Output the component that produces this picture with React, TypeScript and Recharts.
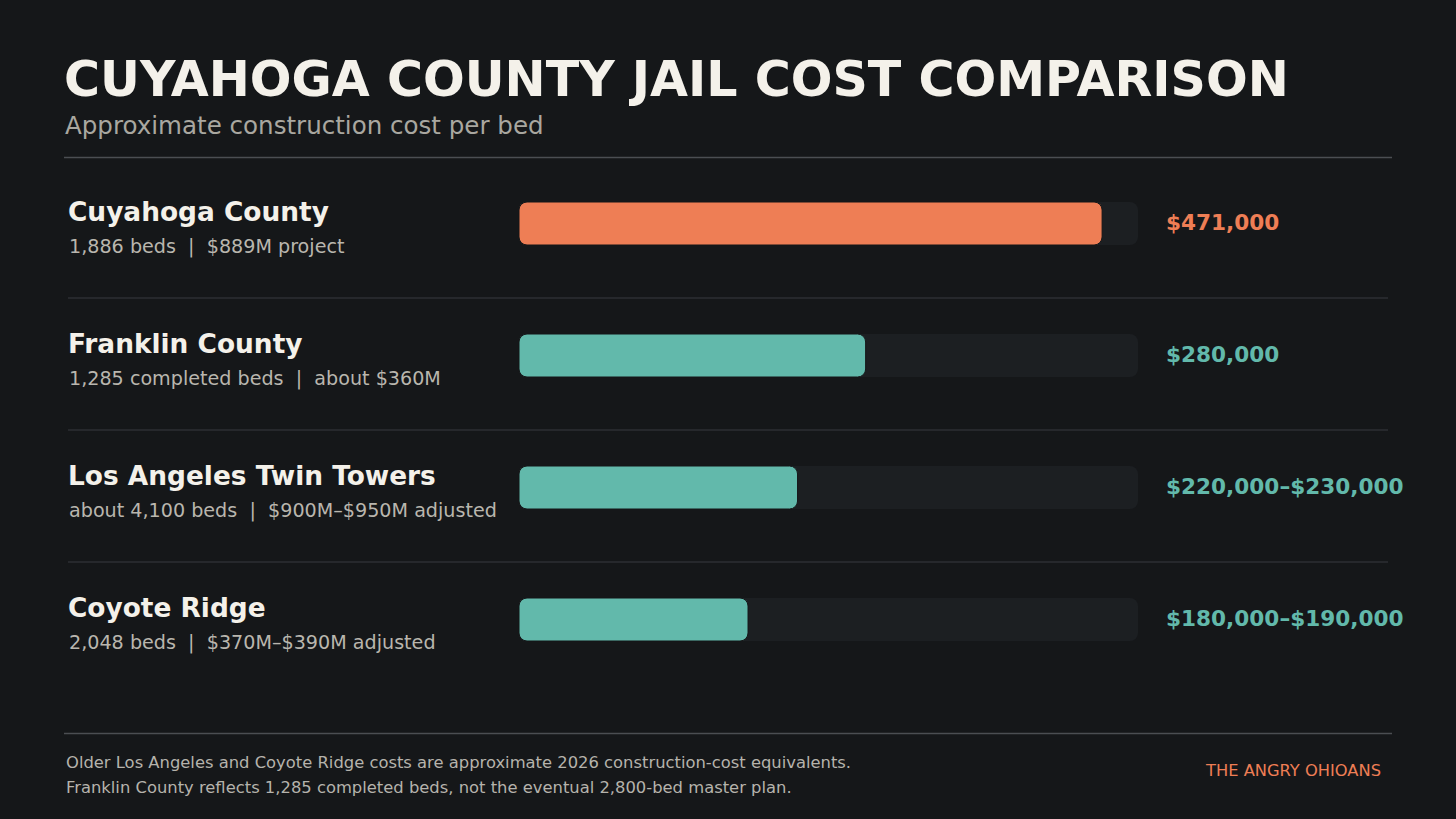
import React from 'react';
import { BarChart, Bar, XAxis, YAxis, Cell, LabelList } from 'recharts';

const facilities = ['Cuyahoga County', 'Franklin County', 'Los Angeles Twin Towers', 'Coyote Ridge'];
const details = [
  '1,886 beds  |  $889M project',
  '1,285 completed beds  |  about $360M',
  'about 4,100 beds  |  $900M\u2013$950M adjusted',
  '2,048 beds  |  $370M\u2013$390M adjusted',
];
const costPerBed = [471000, 280000, 225000, 185000];
const valueLabels = ['$471,000', '$280,000', '$220,000\u2013$230,000', '$180,000\u2013$190,000'];
const scaleMax = 500000;

const BG = '#151719';
const TRACK = '#1c1f22';
const ORANGE = '#ee7e55';
const TEAL = '#62b9ab';
const barColors = [ORANGE, TEAL, TEAL, TEAL];

const FONT = '"DejaVu Sans", Verdana, sans-serif';
const AXIS_W = 451;

const data = facilities.map((name, i) => ({
  name,
  detail: details[i],
  value: costPerBed[i],
  rest: scaleMax - costPerBed[i],
  label: valueLabels[i],
  color: barColors[i],
}));

const LeftTick = (props: any) => {
  const { x, y, payload } = props;
  const i = payload.index;
  const d = data[i];
  const lx = x - AXIS_W;
  return (
    <g>
      <text x={lx} y={y - 2.5} fill="#f4f1ea" fontFamily={FONT} fontWeight="bold" fontSize={26.4}>
        {d.name}
      </text>
      <text x={lx + 1} y={y + 30} fill="#b9b6ae" fontFamily={FONT} fontSize={19.15} style={{ whiteSpace: 'pre' }}>
        {d.detail}
      </text>
      {i < data.length - 1 && (
        <line x1={lx} x2={lx + 1320} y1={y + 75} y2={y + 75} stroke="#2c2f33" strokeWidth={1.5} />
      )}
    </g>
  );
};

const renderValueLabel = (props: any) => {
  const { x, y, width, height, index } = props;
  const d = data[index];
  return (
    <text
      x={x + width + 28}
      y={y + height / 2 + 6}
      fill={d.color}
      fontFamily={FONT}
      fontWeight="bold"
      fontSize={21.6}
    >
      {d.label}
    </text>
  );
};

export default function App() {
  return (
    <div style={{ position: 'absolute', left: 0, top: 0, width: 1456, height: 819, background: BG, overflow: 'hidden' }}>
      <div style={{ position: 'absolute', left: 0, top: 0 }}>
        <BarChart
          width={1456}
          height={819}
          data={data}
          layout="vertical"
          margin={{ top: 157, bottom: 134, left: 68, right: 318 }}
        >
          <XAxis type="number" domain={[0, scaleMax]} hide />
          <YAxis
            type="category"
            dataKey="name"
            width={AXIS_W}
            axisLine={false}
            tickLine={false}
            tickSize={0}
            tickMargin={0}
            tick={<LeftTick />}
          />
          <Bar
            dataKey="value"
            stackId="s"
            barSize={43}
            radius={8}
            background={{ fill: TRACK, radius: 8 } as any}
            stroke={BG}
            strokeWidth={1}
            isAnimationActive={false}
          >
            {data.map((d, i) => (
              <Cell key={i} fill={d.color} />
            ))}
          </Bar>
          <Bar dataKey="rest" stackId="s" barSize={43} fill={TRACK} fillOpacity={0} isAnimationActive={false}>
            <LabelList dataKey="label" content={renderValueLabel} />
          </Bar>
        </BarChart>
      </div>
      <svg width={1456} height={819} style={{ position: 'absolute', left: 0, top: 0, pointerEvents: 'none' }}>
        <text x={64} y={96} fill="#f4f1ea" fontFamily={FONT} fontWeight="bold" fontSize={49.1}>
          CUYAHOGA COUNTY JAIL COST COMPARISON
        </text>
        <text x={65} y={134} fill="#a9a7a0" fontFamily={FONT} fontSize={24.55}>
          Approximate construction cost per bed
        </text>
        <line x1={64} x2={1392} y1={157.5} y2={157.5} stroke="#4b4e52" strokeWidth={1.5} />
        <line x1={64} x2={1392} y1={733.5} y2={733.5} stroke="#4b4e52" strokeWidth={1.5} />
        <text x={66} y={768} fill="#b5b3ac" fontFamily={FONT} fontSize={16.37}>
          Older Los Angeles and Coyote Ridge costs are approximate 2026 construction-cost equivalents.
        </text>
        <text x={66} y={793} fill="#b5b3ac" fontFamily={FONT} fontSize={16.37}>
          Franklin County reflects 1,285 completed beds, not the eventual 2,800-bed master plan.
        </text>
        <text x={1381} y={776} textAnchor="end" fill={ORANGE} fontFamily={FONT} fontSize={16.3}>
          THE ANGRY OHIOANS
        </text>
      </svg>
    </div>
  );
}
